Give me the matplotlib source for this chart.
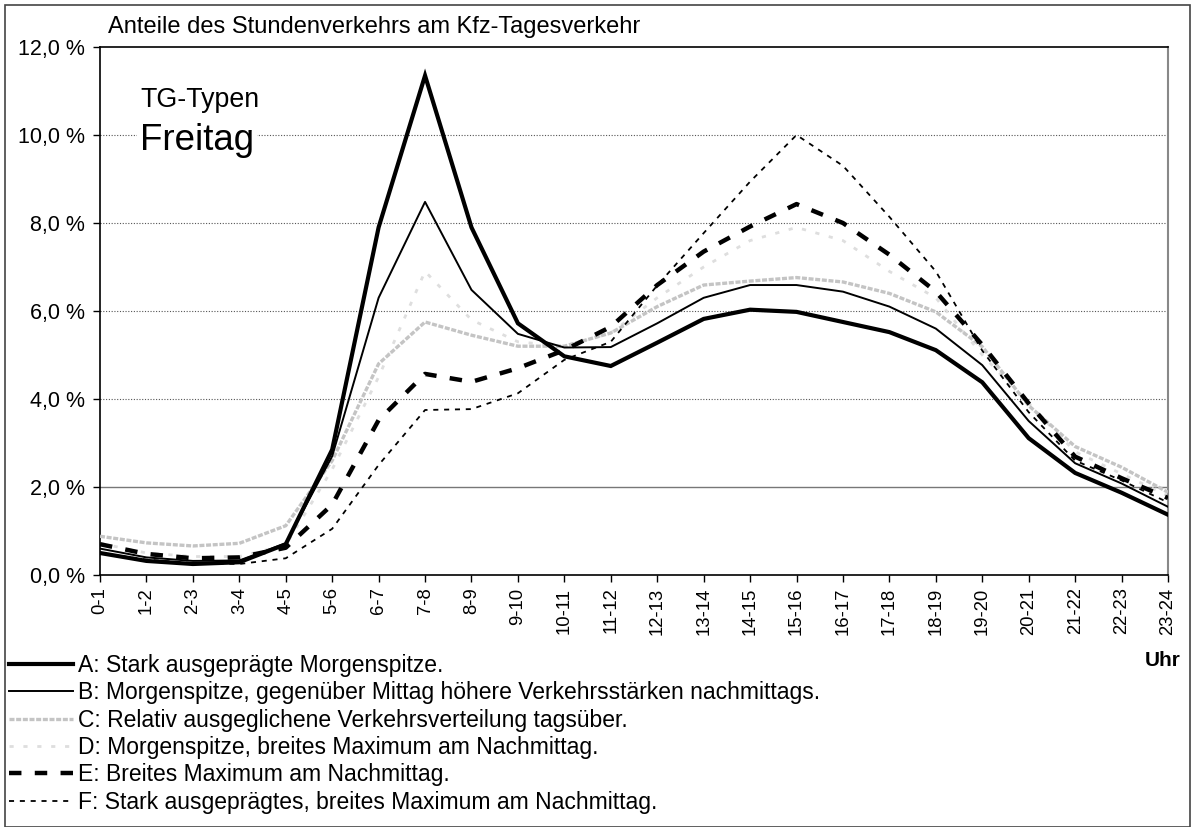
import matplotlib
matplotlib.use("Agg")
import matplotlib.pyplot as plt
from matplotlib.patches import Rectangle
from matplotlib.ticker import FuncFormatter, MultipleLocator

plt.rcParams['font.family'] = ['Liberation Sans', 'DejaVu Sans']

# Stunden des Tages (Kategorien der x-Achse)
hours = [f"{h}-{h + 1}" for h in range(24)]

# Anteile am Tagesverkehr in %
typ_a = [0.5, 0.32, 0.25, 0.29, 0.7, 2.85, 7.9, 11.35, 7.9, 5.72, 4.97, 4.75,
         5.28, 5.82, 6.03, 5.98, 5.75, 5.52, 5.11, 4.38, 3.11, 2.32, 1.87, 1.37]
typ_b = [0.6, 0.4, 0.32, 0.33, 0.72, 2.7, 6.3, 8.48, 6.48, 5.48, 5.17, 5.18,
         5.72, 6.3, 6.59, 6.59, 6.44, 6.1, 5.6, 4.77, 3.5, 2.54, 2.08, 1.55]
typ_c = [0.88, 0.73, 0.66, 0.72, 1.12, 2.6, 4.8, 5.75, 5.45, 5.2, 5.2, 5.5,
         6.1, 6.59, 6.68, 6.76, 6.66, 6.4, 5.98, 5.19, 3.85, 2.92, 2.45, 1.88]
typ_d = [0.72, 0.5, 0.42, 0.42, 0.68, 2.4, 4.5, 6.9, 5.8, 5.3, 5.2, 5.5,
         6.3, 7.0, 7.6, 7.9, 7.6, 6.9, 6.3, 5.0, 3.9, 2.8, 2.3, 1.8]
typ_e = [0.7, 0.48, 0.38, 0.4, 0.62, 1.6, 3.52, 4.57, 4.39, 4.7, 5.11, 5.64,
         6.59, 7.35, 7.92, 8.43, 8.0, 7.28, 6.44, 5.23, 3.9, 2.69, 2.2, 1.75]
typ_f = [0.5, 0.35, 0.27, 0.25, 0.38, 1.05, 2.5, 3.75, 3.77, 4.13, 4.89, 5.3,
         6.58, 7.77, 8.94, 10.0, 9.3, 8.14, 6.9, 5.1, 3.7, 2.6, 2.15, 1.65]

labels = [
    "A: Stark ausgeprägte Morgenspitze.",
    "B: Morgenspitze, gegenüber Mittag höhere Verkehrsstärken nachmittags.",
    "C: Relativ ausgeglichene Verkehrsverteilung tagsüber.",
    "D: Morgenspitze, breites Maximum am Nachmittag.",
    "E: Breites Maximum am Nachmittag.",
    "F: Stark ausgeprägtes, breites Maximum am Nachmittag.",
]

fig = plt.figure(figsize=(11.93, 8.27), dpi=100)
ax = fig.add_axes([100 / 1193, 1 - 575 / 827, 1068 / 1193, 528 / 827])

x = list(range(len(hours)))
la, = ax.plot(x, typ_a, color="black", lw=3.0, zorder=6, solid_joinstyle="miter")
lb, = ax.plot(x, typ_b, color="black", lw=1.4, zorder=5)
lc, = ax.plot(x, typ_c, color="#c4c4c4", lw=2.4, zorder=3, linestyle=(0, (1.5, 0.5)))
ld, = ax.plot(x, typ_d, color="#dedede", lw=2.0, zorder=2, linestyle=(0, (1.5, 3.5)))
le, = ax.plot(x, typ_e, color="black", lw=3.2, zorder=4, linestyle=(0, (2.8, 3.0)))
lf, = ax.plot(x, typ_f, color="black", lw=1.3, zorder=4, linestyle=(0, (2.8, 3.2)))

ax.set_xlim(0, 23)
ax.set_ylim(0, 12)
ax.set_xticks(x)
ax.set_xticklabels(hours, rotation=90, fontsize=13.3)
ax.yaxis.set_major_locator(MultipleLocator(2))
ax.yaxis.set_major_formatter(FuncFormatter(lambda v, p: f"{v:.1f} %".replace(".", ",")))
ax.tick_params(axis="y", labelsize=15.5, length=5, width=1, pad=6)
ax.tick_params(axis="x", length=5, width=1, pad=4)

# horizontale Gitterlinien
for g in range(2, 12, 2):
    if g == 2:
        ax.axhline(g, color="#777777", lw=1.0, zorder=1)
    else:
        ax.axhline(g, color="#555555", lw=0.8, linestyle=(0, (1, 1.5)), zorder=1)

for side in ["left", "bottom", "top"]:
    ax.spines[side].set_color("black")
    ax.spines[side].set_linewidth(1.2)
ax.spines["right"].set_color("#888888")
ax.spines["right"].set_linewidth(1.5)

fig.text(108 / 1193, 1 - 27 / 827, "Anteile des Stundenverkehrs am Kfz-Tagesverkehr",
         fontsize=17, va="center", ha="left")
fig.text(140 / 1193, 1 - 100 / 827, "TG-Typen", fontsize=19.3, va="center", ha="left")
fig.text(140 / 1193, 1 - 140 / 827, "Freitag", fontsize=26.5, va="center", ha="left",
         bbox=dict(facecolor="white", edgecolor="none", pad=2))
fig.text(1181 / 1193, 1 - 660 / 827, "Uhr", fontsize=15, fontweight="bold",
         ha="right", va="center")

# Legende unten
fig.legend([la, lb, lc, ld, le, lf], labels, loc="upper left",
           bbox_to_anchor=(9 / 1193, 1 - 654 / 827), frameon=False,
           fontsize=16.5, handlelength=2.8, handletextpad=0.2,
           labelspacing=0.19, borderpad=0, borderaxespad=0)

# Rahmen um die Grafik
fig.add_artist(Rectangle((5 / 1193, 0), 1185 / 1193, 1 - 5 / 827,
                         transform=fig.transFigure, fill=False,
                         edgecolor="#444444", lw=1.2))

fig.savefig("out.png", dpi=100)
